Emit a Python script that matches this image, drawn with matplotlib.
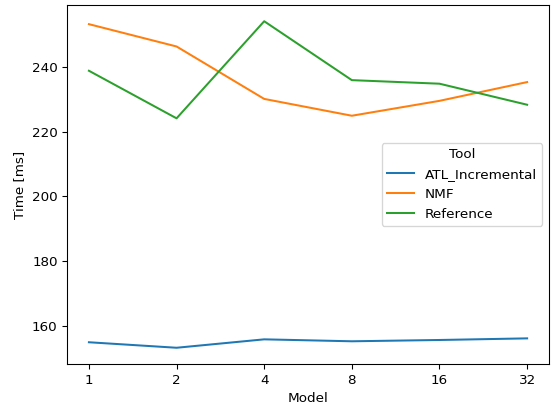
import matplotlib
matplotlib.use('Agg')
import matplotlib.pyplot as plt

models = ['1', '2', '4', '8', '16', '32']
atl_incremental = [154.9, 153.2, 155.8, 155.2, 155.6, 156.1]
nmf = [253.2, 246.3, 230.1, 224.9, 229.5, 235.3]
reference = [238.8, 224.1, 254.1, 235.9, 234.8, 228.3]

dpi = 97
fig = plt.figure(figsize=(552 / dpi, 410 / dpi), dpi=dpi)
ax = fig.add_subplot(1, 1, 1)
fig.subplots_adjust(left=0.1214, right=0.9946, top=0.988, bottom=0.112)

x = range(len(models))
ax.plot(x, atl_incremental, color='tab:blue', label='ATL_Incremental')
ax.plot(x, nmf, color='tab:orange', label='NMF')
ax.plot(x, reference, color='tab:green', label='Reference')

ax.set_xticks(list(x))
ax.set_xticklabels(models)
ax.set_yticks([160, 180, 200, 220, 240])
ax.set_xlabel('Model')
ax.set_ylabel('Time [ms]')
ax.legend(title='Tool', loc='center right')

fig.savefig('out.png', dpi=dpi)
